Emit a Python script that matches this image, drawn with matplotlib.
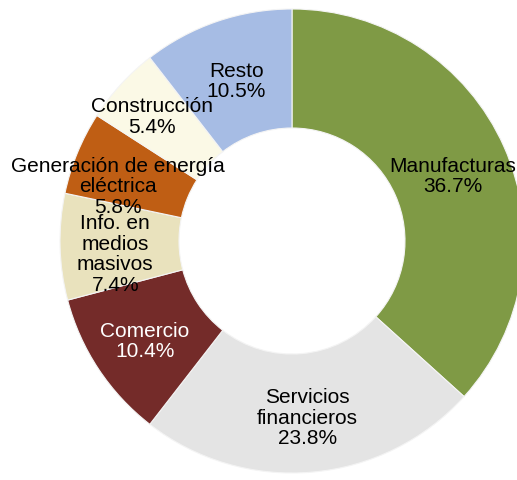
import matplotlib.pyplot as plt

sectores = ['Manufacturas', 'Servicios\nfinancieros', 'Comercio', 'Info. en\nmedios\nmasivos',
            'Generación de energía\neléctrica', 'Construcción', 'Resto']
porcentajes = [36.7, 23.8, 10.4, 7.4, 5.8, 5.4, 10.5]
colores = ['#7F9A45', '#E4E4E4', '#742B29', '#E9E2BD', '#BF5E14', '#FBF9E6', '#A6BCE4']
color_texto = ['black', 'black', 'white', 'black', 'black', 'black', 'black']
# small nudges of the labels (pixels) to sit like the original
ajuste = [(4, -4), (0, -5), (-4, -5), (-5, -8), (-15, -10), (-13, 9), (0, -2)]

plt.rcParams['font.family'] = ['Liberation Sans', 'DejaVu Sans']

fig = plt.figure(figsize=(5.17, 4.81), dpi=100)
ax = fig.add_axes([0, 0, 1, 1])

etiquetas = [f'{s}\n{p:.1f}%' for s, p in zip(sectores, porcentajes)]
cuñas, textos = ax.pie(porcentajes, labels=etiquetas, colors=colores, startangle=90,
                       counterclock=False, center=(292, 239), radius=232,
                       labeldistance=0.74, frame=True,
                       wedgeprops=dict(width=119, edgecolor='#F4F4F4', linewidth=0.8),
                       textprops=dict(fontsize=15, linespacing=1.1))
ax.set_xlim(0, 517)
ax.set_ylim(0, 481)
ax.set_aspect('equal')
ax.axis('off')
for t, c, (dx, dy) in zip(textos, color_texto, ajuste):
    x, y = t.get_position()
    t.set_position((x + dx, y + dy))
    t.set_ha('center')
    t.set_va('center')
    t.set_color(c)

fig.savefig('out.png', dpi=100)
